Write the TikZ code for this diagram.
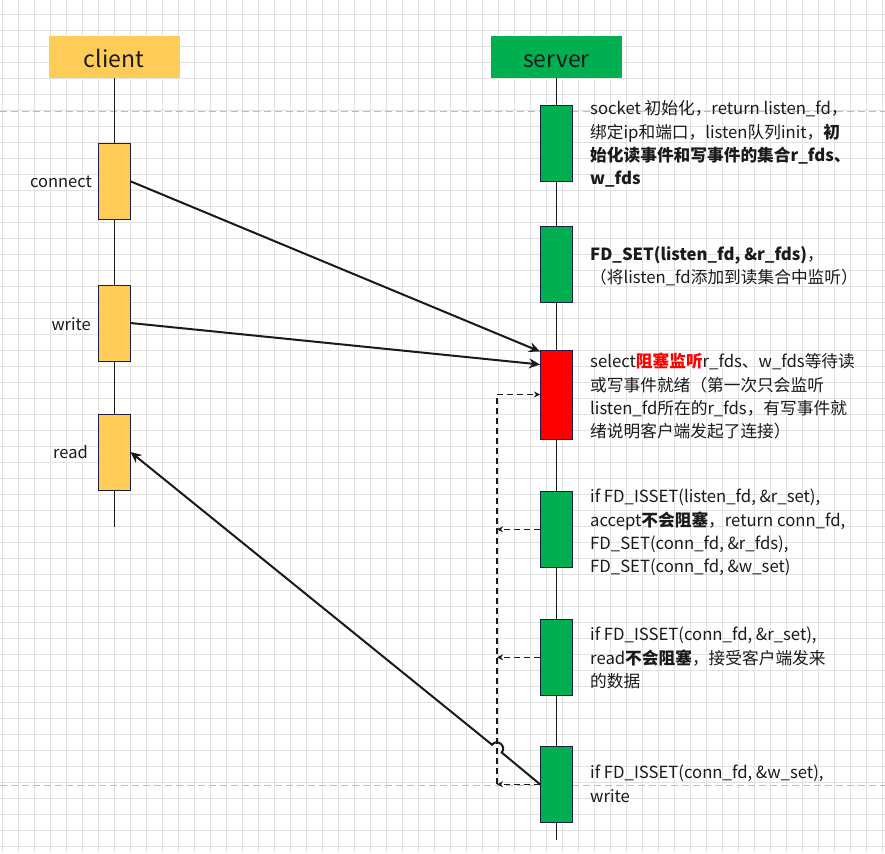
\documentclass[tikz,border=0pt]{standalone}
\usepackage{fontspec}
\setmainfont{Noto Sans CJK SC}
\usetikzlibrary{arrows.meta,calc}
\definecolor{yel}{HTML}{FFCD57}
\definecolor{grn}{HTML}{00B050}
\definecolor{navy}{HTML}{1A1F4A}
\definecolor{gridc}{HTML}{E2E2E2}
\definecolor{pagec}{HTML}{BDBDBD}
\definecolor{txt}{HTML}{1A1A1A}
\begin{document}
\begin{tikzpicture}[x=1pt,y=-1pt,
  hdr/.style={minimum width=131pt, minimum height=42pt, inner sep=0, font=\fontsize{23}{26}\selectfont, text=txt, text height=22pt, text depth=0pt},
  act/.style={draw=navy, line width=1pt, minimum width=32pt, minimum height=76pt, inner sep=0},
  lbl/.style={anchor=east, inner sep=0, font=\fontsize{16.5}{19}\selectfont, text=txt},
  desc/.style={anchor=north west, inner sep=0, align=left, font=\fontsize{16.7}{23.3}\selectfont, text=txt},
  life/.style={draw=txt, line width=0.9pt},
  arr/.style={draw=txt, line width=2pt, -{Stealth[length=11pt,width=10pt]}},
  darr/.style={draw=txt, line width=1.1pt, dash pattern=on 6pt off 4pt, -{Stealth[length=6pt,width=6pt]}},
  dline/.style={draw=txt, line width=1.1pt, dash pattern=on 6pt off 4pt},
  pagebrk/.style={draw=pagec, line width=0.9pt, dash pattern=on 7pt off 4pt},
]
\useasboundingbox (0,0) rectangle (885,853);
\fill[white] (0,0) rectangle (885,853);
\foreach \x in {2,18,...,882} \draw[gridc, line width=0.9pt] (\x,0) -- (\x,853);
\foreach \y in {14,30,...,852} \draw[gridc, line width=0.9pt] (0,\y) -- (885,\y);
\draw[pagebrk] (0,111) -- (885,111);
\draw[pagebrk] (0,785) -- (885,785);

% headers
\node[hdr, fill=yel] (client) at (114,57) {client};
\node[hdr, fill=grn] (server) at (556.5,57) {server};
\coordinate (cend) at (114,527);
\coordinate (send) at (556.5,840);
\draw[life] (client.south) -- (cend);
\draw[life] (server.south) -- (send);

% client activations
\node[act, fill=yel] (connect) at (114,181.3) {};
\node[act, fill=yel] (write) at (114,323) {};
\node[act, fill=yel] (read) at (114,452) {};
\node[lbl] (lconnect) at (92,182) {connect};
\node[lbl] (lwrite) at (91,324) {write};
\node[lbl] (lread) at (88,452) {read};

% server activations
\node[act, fill=grn] (b1) at (556.5,143.3) {};
\node[act, fill=grn] (b2) at (556.5,264.5) {};
\node[act, fill=red, minimum height=89pt] (red) at (556.5,394.5) {};
\node[act, fill=grn] (b4) at (556.5,529.3) {};
\node[act, fill=grn] (b5) at (556.5,657.3) {};
\node[act, fill=grn] (b6) at (556.5,784.3) {};

% connectors
\coordinate (jx) at (497,0);
\draw[arr] (connect.east) -- ([yshift=-2pt]red.north west);
\draw[arr] (write.east) -- ([yshift=-15pt]red.north west);
\draw[darr] (b4.west) -- (b4.west -| jx);
\draw[darr] (b5.west) -- (b5.west -| jx);
\draw[darr] (b6.west) -- (b6.west -| jx);
\draw[dline] (b6.west -| jx) -- (red.west -| jx);
\draw[darr] (red.west -| jx) -- (red.west);
\draw[arr] (b6.west) -- (501.7,752.5) .. controls (506.9,746.1) and (497.2,738.3) .. (492.0,744.7) -- (read.east);

% descriptions
\node[desc] (t1) at (590,100.5) {socket 初始化，return listen\_fd，\\
绑定ip和端口，listen队列init，\textbf{初}\\
\textbf{始化读事件和写事件的集合r\_fds、}\\
\textbf{w\_fds}};
\node[desc] (t2) at (590,246) {\textbf{FD\_SET(listen\_fd, \&r\_fds)}，\\
（将listen\_fd添加到读集合中监听）};
\node[desc] (t3) at (590,353) {select\textcolor{red}{\bfseries 阻塞监听}r\_fds、w\_fds等待读\\
或写事件就绪（第一次只会监听\\
listen\_fd所在的r\_fds，有写事件就\\
绪说明客户端发起了连接）};
\node[desc] (t4) at (590,489) {if FD\_ISSET(listen\_fd, \&r\_set),\\
accept\textbf{不会阻塞}，return conn\_fd,\\
FD\_SET(conn\_fd, \&r\_fds),\\
FD\_SET(conn\_fd, \&w\_set)};
\node[desc] (t5) at (590,627) {if FD\_ISSET(conn\_fd, \&r\_set),\\
read\textbf{不会阻塞}，接受客户端发来\\
的数据};
\node[desc] (t6) at (590,765) {if FD\_ISSET(conn\_fd, \&w\_set),\\
write};
\end{tikzpicture}
\end{document}
